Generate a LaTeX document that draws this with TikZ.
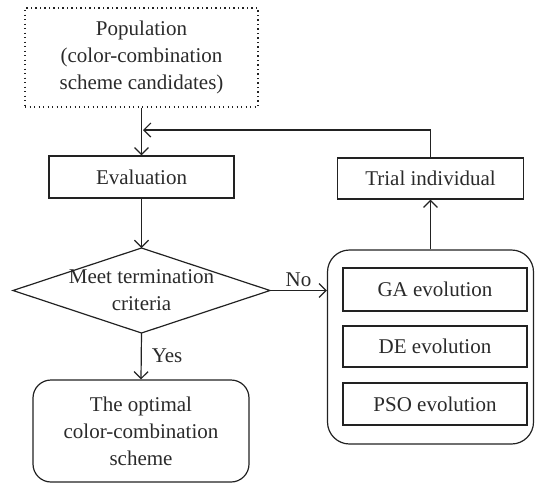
\documentclass[tikz,border=0pt]{standalone}
\usepackage{fontspec}
\setmainfont{Liberation Serif}
\usetikzlibrary{arrows.meta}
\definecolor{ink}{HTML}{222222}
\definecolor{txt}{HTML}{2a2a2a}
\begin{document}
\begin{tikzpicture}[x=1pt,y=-1pt,
  every node/.style={font=\fontsize{21}{27}\selectfont, text=txt, align=center, inner sep=0pt},
  box/.style={draw=ink, line width=1.2pt, rectangle},
  rbox/.style={draw=ink, line width=1.2pt, rectangle, rounded corners=20pt},
  conn/.style={draw=ink, line width=1.2pt, -{Straight Barb[length=7pt,width=14pt,line width=1.2pt]}},
  lbl/.style={font=\fontsize{21}{27}\selectfont}]
\useasboundingbox (0,0) rectangle (535,485);
\node[box, line width=1.3pt, dash pattern=on 1.3pt off 3.2pt, minimum width=233pt, minimum height=99pt] (pop) at (141.5,57.5)
  {Population\\(color-combination\\scheme candidates)};
\node[box, minimum width=185pt, minimum height=42pt] (eval) at (141.5,177) {Evaluation};
\node (dec) at (141.5,290.5) {Meet termination\\criteria};
\coordinate (dT) at (141.5,248);
\coordinate (dB) at (141.5,333);
\coordinate (dL) at (13,290.5);
\coordinate (dR) at (270,290.5);
\draw[ink, line width=1.2pt] (dT) -- (dR) -- (dB) -- (dL) -- cycle;
\node[rbox, rounded corners=18pt, minimum width=216pt, minimum height=102pt] (opt) at (141,431)
  {The optimal\\color-combination\\scheme};
\node[rbox, rounded corners=22pt, minimum width=206pt, minimum height=194pt] (big) at (430.5,347) {};
\node[box, minimum width=184pt, minimum height=43pt] (ga) at (435,289.5) {GA evolution};
\node[box, minimum width=184pt, minimum height=41pt] (de) at (435,346.5) {DE evolution};
\node[box, minimum width=184pt, minimum height=42pt] (pso) at (435,404) {PSO evolution};
\node[box, minimum width=186pt, minimum height=41pt] (trial) at (430.5,178.5) {Trial individual};
\coordinate (fb) at (143,130);
\draw[conn] (pop.south) -- (eval.north);
\draw[conn] (eval.south) -- (dT);
\draw[conn] (dB) -- node[lbl, right, xshift=10pt] {Yes} (opt.north);
\draw[conn] (dR) -- node[lbl, above, yshift=3pt] {No} (dR -| big.west);
\draw[conn] (big.north) -- (trial.south);
\draw[conn] (trial.north) |- (fb);
\end{tikzpicture}
\end{document}
